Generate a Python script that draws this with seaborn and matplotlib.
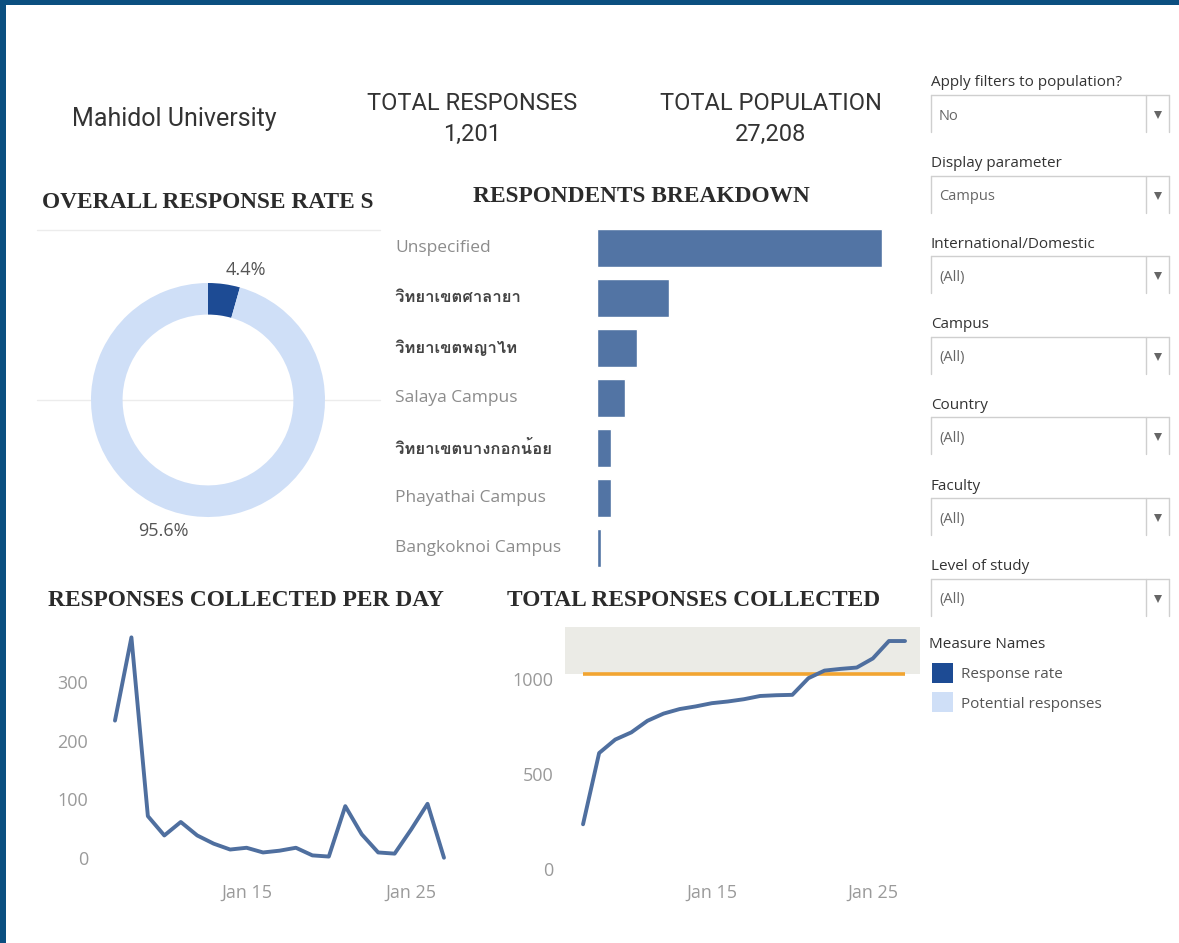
import numpy as np
import pandas as pd
import matplotlib
matplotlib.use("Agg")
import matplotlib.pyplot as plt
import matplotlib.dates as mdates
import matplotlib.transforms as mtrans
from matplotlib.patches import Rectangle
from matplotlib import font_manager as fm
from matplotlib.ft2font import FT2Font
import seaborn as sns

# ---------------- data ----------------
university = "Mahidol University"
total_responses = 1201
total_population = 27208

rate_labels = ["Response rate", "Potential responses"]
rate_values = [4.4, 95.6]

campus_labels = ["Unspecified", "วิทยาเขตศาลายา", "วิทยาเขตพญาไท", "Salaya Campus",
                 "วิทยาเขตบางกอกน้อย", "Phayathai Campus", "Bangkoknoi Campus"]
campus_counts = [749, 189, 105, 74, 37, 37, 10]

day_dates = ["2021-01-07", "2021-01-08", "2021-01-09", "2021-01-10", "2021-01-11",
             "2021-01-12", "2021-01-13", "2021-01-14", "2021-01-15", "2021-01-16",
             "2021-01-17", "2021-01-18", "2021-01-19", "2021-01-20", "2021-01-21",
             "2021-01-22", "2021-01-23", "2021-01-24", "2021-01-25", "2021-01-26",
             "2021-01-27"]
daily_counts = [234, 376, 71, 38, 61, 38, 24, 14, 17, 9, 12, 17, 4, 2, 88, 40, 9, 7, 48, 92, 0]
cumulative_counts = [234, 610, 681, 719, 780, 818, 842, 856, 873, 882, 894, 911, 915,
                     917, 1005, 1045, 1054, 1061, 1109, 1201, 1201]
target_responses = 1025

date_ticks = ["2021-01-15", "2021-01-25"]

filter_labels = ["Apply filters to population?", "Display parameter", "International/Domestic",
                 "Campus", "Country", "Faculty", "Level of study"]
filter_values = ["No", "Campus", "(All)", "(All)", "(All)", "(All)", "(All)"]

# ---------------- style ----------------
W, H = 1179, 943
sns.set_theme(style="white")
plt.rcParams["font.family"] = ["Open Sans", "DejaVu Sans"]


def find_family(ch):
    for f in fm.fontManager.ttflist:
        try:
            if ord(ch) in FT2Font(f.fname).get_charmap():
                return f.name
        except Exception:
            continue
    return None


thai_family = find_family("ว")

DARK = "#1d4b94"
LIGHT = "#cfdff7"
BAR = "#5274a4"
LINE = "#4f6f9f"
ORANGE = "#f2a531"
BAND = "#ebebe6"
BORDER = "#0b4f80"
TICK = "#9a9a9a"
TXT = "#333333"

fig = plt.figure(figsize=(W / 100, H / 100), dpi=100)
fig.patch.set_facecolor("white")


def px(x0, y0, x1, y1):
    return [x0 / W, 1 - y1 / H, (x1 - x0) / W, (y1 - y0) / H]


# overlay axes in pixel coordinates
ov = fig.add_axes([0, 0, 1, 1])
ov.set_xlim(0, W)
ov.set_ylim(H, 0)
ov.axis("off")
ov.patch.set_alpha(0)

# border
ov.add_patch(Rectangle((0, 0), W, 5, color=BORDER, lw=0))
ov.add_patch(Rectangle((0, 0), 6, H, color=BORDER, lw=0))

# header
ov.text(72, 119, university, fontsize=18, color=TXT, va="center", ha="left", family="Roboto")
ov.text(472, 103, "TOTAL RESPONSES", fontsize=17, color=TXT, va="center", ha="center", family="Roboto")
ov.text(472, 134, f"{total_responses:,}", fontsize=17, color=TXT, va="center", ha="center", family="Roboto")
ov.text(771, 103, "TOTAL POPULATION", fontsize=17, color=TXT, va="center", ha="center", family="Roboto")
ov.text(771, 134, f"{total_population:,}", fontsize=17, color=TXT, va="center", ha="center", family="Roboto")

# section titles
title_kw = dict(fontsize=16.8, color="#2b2b2b", va="center", ha="left",
                family="Liberation Serif", fontweight="bold")
ov.text(42, 203, "OVERALL RESPONSE RATE S", **title_kw)
ov.text(473, 197, "RESPONDENTS BREAKDOWN", **title_kw)
ov.text(48, 601, "RESPONSES COLLECTED PER DAY", **title_kw)
ov.text(507, 601, "TOTAL RESPONSES COLLECTED", **title_kw)

# thin gray separators of donut area
ov.plot([37, 380], [230, 230], color="#ececec", lw=1)
ov.plot([37, 380], [400, 400], color="#ececec", lw=1)

# filter panel
for i, (lab, val) in enumerate(zip(filter_labels, filter_values)):
    y0 = 83 + 80.6 * i
    top = 95 + 80.6 * i
    ov.text(931, y0, lab, fontsize=11, color=TXT, va="center", ha="left")
    ov.plot([931, 1169], [top, top], color="#cfcfcf", lw=1)
    ov.plot([931, 931], [top, top + 37], color="#cfcfcf", lw=1)
    ov.plot([1169, 1169], [top, top + 37], color="#cfcfcf", lw=1)
    ov.plot([1146, 1146], [top, top + 37], color="#cfcfcf", lw=1)
    ov.plot([1158], [top + 20], marker="v", color="#666666", ms=5.5, mew=0)
    ov.text(939, top + 21, val, fontsize=10.5, color="#666666", va="center", ha="left")

# legend
ov.text(929, 645, "Measure Names", fontsize=11, color=TXT, va="center", ha="left")
ov.add_patch(Rectangle((932, 663), 21, 20, color=DARK, lw=0))
ov.add_patch(Rectangle((932, 692), 21, 20, color=LIGHT, lw=0))
ov.text(961, 674, rate_labels[0], fontsize=11, color="#555555", va="center", ha="left")
ov.text(961, 704, rate_labels[1], fontsize=11, color="#555555", va="center", ha="left")

# ---------------- donut ----------------
axd = fig.add_axes(px(58, 250, 358, 550))
axd.pie(rate_values, colors=[DARK, LIGHT], startangle=90, counterclock=False, radius=1,
        wedgeprops=dict(width=0.27, edgecolor="none"))
axd.set_xlim(-1.282, 1.282)
axd.set_ylim(-1.282, 1.282)
axd.set_aspect("equal")
axd.patch.set_alpha(0)
axd.text(0.32, 1.11, f"{rate_values[0]}%", fontsize=13, color="#555555", ha="center", va="center")
axd.text(-0.38, -1.12, f"{rate_values[1]}%", fontsize=13, color="#555555", ha="center", va="center")

# ---------------- bar chart ----------------
axb = fig.add_axes(px(597, 223, 890, 573))
bdf = pd.DataFrame({"campus": campus_labels, "count": campus_counts})
sns.barplot(data=bdf, x="count", y="campus", orient="h", color=BAR, saturation=1,
            width=0.75, ax=axb)
axb.set_xlim(0, 770)
axb.set_ylim(6.5, -0.5)
axb.set_xlabel("")
axb.set_ylabel("")
axb.set_xticks([])
axb.set_yticks([])
for s in axb.spines.values():
    s.set_visible(False)
axb.patch.set_alpha(0)
tr = mtrans.blended_transform_factory(ov.transData, axb.transData)
for i, lab in enumerate(campus_labels):
    is_thai = any("\u0e00" <= c <= "\u0e7f" for c in lab)
    fam = [thai_family, "Open Sans"] if (is_thai and thai_family) else ["Open Sans", "DejaVu Sans"]
    axb.text(395, i, lab, transform=tr, fontsize=12.5 if not is_thai else 12, va="center", ha="left",
             color="#444444" if is_thai else "#8c8c8c", family=fam,
             fontweight="bold" if is_thai else "normal")

# ---------------- line charts ----------------
dates = pd.to_datetime(day_dates)
tick_dates = pd.to_datetime(date_ticks)


def style_line_axes(ax):
    for s in ax.spines.values():
        s.set_visible(False)
    ax.patch.set_alpha(0)
    ax.grid(False)
    ax.set_xlabel("")
    ax.set_ylabel("")
    ax.set_xticks(tick_dates)
    ax.xaxis.set_major_formatter(mdates.DateFormatter("%b %-d"))
    ax.tick_params(axis="both", length=0, labelsize=13, labelcolor=TICK)
    ax.tick_params(axis="y", pad=8.5)
    ax.tick_params(axis="x", pad=3)


ax1 = fig.add_axes(px(100, 628, 455, 880))
ddf = pd.DataFrame({"date": dates, "count": daily_counts})
sns.lineplot(data=ddf, x="date", y="count", color=LINE, lw=2.8, ax=ax1)
ax1.set_ylim(-38, 392)
ax1.set_yticks([0, 100, 200, 300])
ax1.set_xlim(dates[0] - pd.Timedelta(days=0.91), dates[-1] + pd.Timedelta(days=0.67))
style_line_axes(ax1)

ax2 = fig.add_axes(px(565, 627, 920, 880))
cdf = pd.DataFrame({"date": dates, "total": cumulative_counts})
ax2.set_ylim(-60, 1275)
ax2.axhspan(target_responses, 1275, color=BAND, lw=0, zorder=0)
ax2.hlines(target_responses, dates[0], dates[-1], color=ORANGE, lw=2.6, zorder=1)
sns.lineplot(data=cdf, x="date", y="total", color=LINE, lw=2.8, ax=ax2, zorder=2)
ax2.set_ylim(-60, 1275)
ax2.set_yticks([0, 500, 1000])
ax2.set_xlim(dates[0] - pd.Timedelta(days=1.12), dates[-1] + pd.Timedelta(days=0.93))
style_line_axes(ax2)

fig.savefig("out.png", dpi=100, facecolor="white")
